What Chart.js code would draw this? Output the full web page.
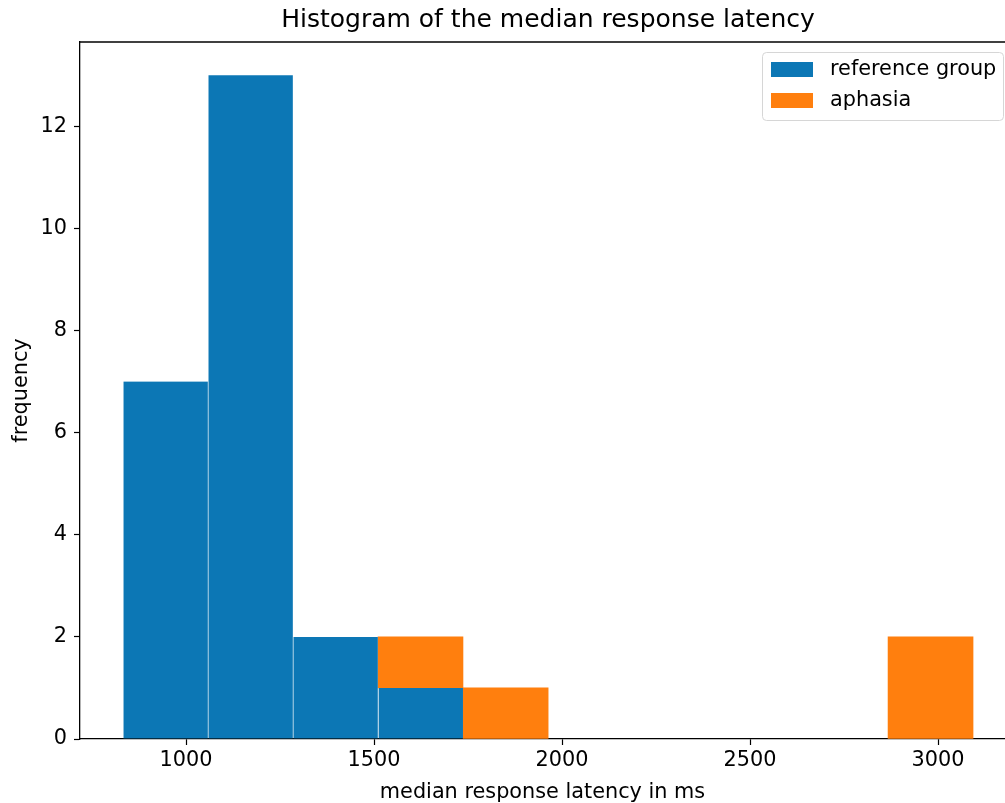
<!DOCTYPE html>
<html>
<head>
<meta charset="utf-8">
<script src="https://cdn.jsdelivr.net/npm/chart.js@4.4.0/dist/chart.umd.min.js"></script>
<style>
  html, body { margin: 0; padding: 0; background: #fff; }
  #wrap { width: 1005px; height: 803px; }
</style>
</head>
<body>
<div id="wrap"><canvas id="chart" width="1005" height="803"></canvas></div>
<script>
// bin edges of the histogram (ms)
const binEdges = [832, 1058, 1284, 1510, 1737, 1963, 2189, 2415, 2641, 2867, 3093];
// counts per bin
const referenceCounts = [7, 13, 2, 1, 0, 0, 0, 0, 0, 0];
const aphasiaCounts = [0, 0, 0, 1, 1, 0, 0, 0, 0, 2];
// tick labels
const xTicks = [1000, 1500, 2000, 2500, 3000];
const yTicks = [0, 2, 4, 6, 8, 10, 12];

const FONT = "'DejaVu Sans', sans-serif";

// bin centres for placing bars on the linear axis
const binCenters = binEdges.slice(0, -1).map((e, i) => (e + binEdges[i + 1]) / 2);
// empty bins are left out so no hairlines get drawn on the axis
const toPoints = (counts) => binCenters.map((c, i) => ({ x: c, y: counts[i] || null }));

// draws title, top spine and the framed legend like matplotlib
const extras = {
    id: 'extras',
    afterDraw(chart) {
        const ctx = chart.ctx;
        const area = chart.chartArea;
        ctx.save();
        // top spine
        ctx.strokeStyle = '#000';
        ctx.lineWidth = 1.3;
        ctx.beginPath();
        ctx.moveTo(area.left, area.top);
        ctx.lineTo(area.right, area.top);
        ctx.stroke();

        // title
        ctx.fillStyle = '#000';
        ctx.font = '25px ' + FONT;
        ctx.textAlign = 'center';
        ctx.textBaseline = 'middle';
        ctx.fillText('Histogram of the median response latency', 548, 20);

        // legend frame
        const lx = 762, ly = 52, lw = 241, lh = 68;
        ctx.fillStyle = 'rgba(255,255,255,0.8)';
        ctx.strokeStyle = '#d6d6d6';
        ctx.lineWidth = 1;
        ctx.beginPath();
        ctx.roundRect(lx + 0.5, ly + 0.5, lw, lh, 4);
        ctx.fill();
        ctx.stroke();

        ctx.font = '20.8px ' + FONT;
        ctx.textAlign = 'left';
        chart.data.datasets.forEach((ds, i) => {
            const y = ly + 10 + i * 31;
            ctx.fillStyle = ds.backgroundColor;
            ctx.fillRect(771, y, 42, 15);
            ctx.fillStyle = '#000';
            ctx.fillText(ds.label, 830, y + 8);
        });
        ctx.restore();
    }
};

new Chart(document.getElementById('chart'), {
    type: 'bar',
    data: {
        datasets: [
            {
                label: 'reference group',
                data: toPoints(referenceCounts),
                backgroundColor: '#0c77b5',
                borderColor: 'rgba(255,255,255,0.1)',
                borderWidth: { left: 1, right: 0, top: 0, bottom: 0 }
            },
            {
                label: 'aphasia',
                data: toPoints(aphasiaCounts),
                backgroundColor: '#ff7f0e',
                borderWidth: 0
            }
        ]
    },
    options: {
        responsive: false,
        animation: false,
        barPercentage: 1,
        categoryPercentage: 1,
        layout: { padding: { top: 42, left: 0, right: 0, bottom: 0 } },
        plugins: {
            legend: { display: false },
            title: { display: false },
            tooltip: { enabled: false }
        },
        scales: {
            x: {
                type: 'linear',
                stacked: true,
                min: 718,
                max: 3178,
                offset: false,
                afterBuildTicks: (s) => { s.ticks = xTicks.map(v => ({ value: v })); },
                afterFit: (s) => { s.height = 64; },
                grid: { offset: false, drawOnChartArea: false, color: '#000', tickLength: 6, tickWidth: 1.2 },
                border: { color: '#000', width: 1.3 },
                ticks: {
                    color: '#000',
                    font: { family: FONT, size: 20.8 },
                    padding: 3,
                    maxRotation: 0,
                    callback: (v) => String(v)
                },
                title: {
                    display: true,
                    text: 'median response latency in ms',
                    color: '#000',
                    font: { family: FONT, size: 20.8 },
                    padding: { top: 0, bottom: -2 }
                }
            },
            y: {
                stacked: true,
                min: 0,
                max: 13.65,
                afterBuildTicks: (s) => { s.ticks = yTicks.map(v => ({ value: v })); },
                afterFit: (s) => { s.width = 80; },
                grid: { offset: false, drawOnChartArea: false, color: '#000', tickLength: 6, tickWidth: 1.2 },
                border: { color: '#000', width: 1.3 },
                ticks: { color: '#000', font: { family: FONT, size: 20.8 }, padding: 7 },
                title: {
                    display: true,
                    text: 'frequency',
                    color: '#000',
                    font: { family: FONT, size: 20.8 },
                    padding: { top: 9, bottom: 0 }
                }
            }
        }
    },
    plugins: [extras]
});
</script>
</body>
</html>
